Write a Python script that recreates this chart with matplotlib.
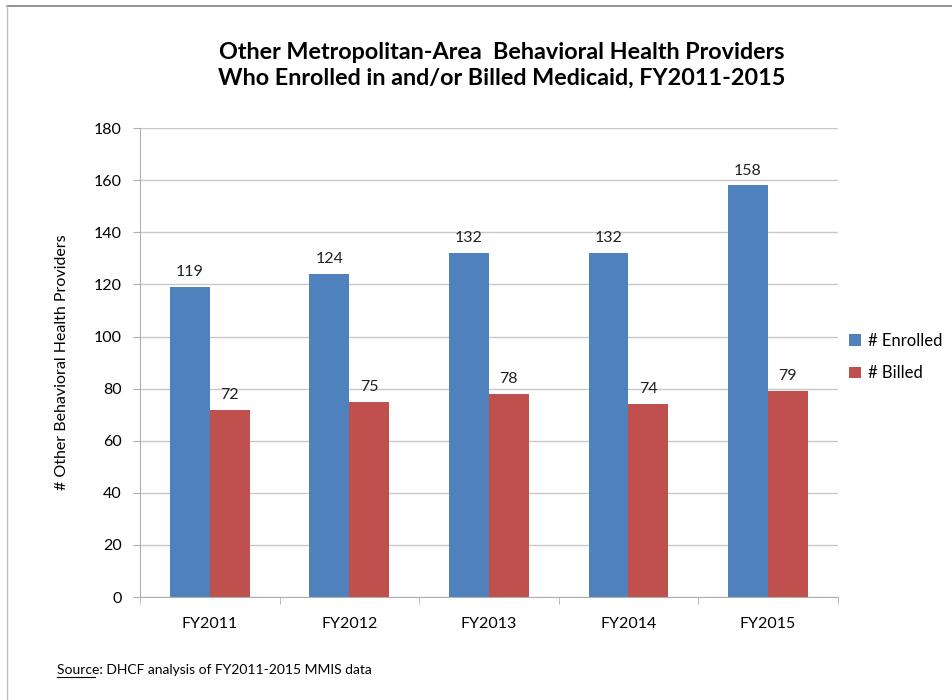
import numpy as np
import matplotlib.pyplot as plt

# Input Data
years = ['FY2011', 'FY2012', 'FY2013', 'FY2014', 'FY2015']
enrolled = [119, 124, 132, 132, 158]
billed = [72, 75, 78, 74, 79]

plt.rcParams['font.family'] = ['Lato', 'DejaVu Sans']

fig = plt.figure(figsize=(9.52, 7), dpi=100)
ax = fig.add_axes([0.147, 0.147, 0.733, 0.67])

x = np.arange(len(years))
w = 0.286
b1 = ax.bar(x - w / 2, enrolled, w, color='#4f81bd', label='# Enrolled')
b2 = ax.bar(x + w / 2, billed, w, color='#c0504d', label='# Billed')

for bars in (b1, b2):
    for r in bars:
        ax.text(r.get_x() + r.get_width() / 2, r.get_height() + 3, str(int(r.get_height())),
                ha='center', va='bottom', fontsize=11.5, color='#222222')

ax.set_xlim(-0.5, len(years) - 0.5)
ax.set_ylim(0, 180)
ax.set_yticks(range(0, 181, 20))
ax.yaxis.grid(True, color='#c8c8c8', linewidth=1)
ax.set_axisbelow(True)
ax.set_xticks(x)
ax.set_xticklabels(years, fontsize=11.5)
ax.set_xticks(np.arange(-0.5, len(years)), minor=True)
ax.tick_params(axis='x', which='major', length=0, pad=14)
ax.tick_params(axis='x', which='minor', length=5, color='#b0b0b0')
ax.tick_params(axis='y', length=5, color='#b0b0b0', labelsize=11.5, pad=8)
for s in ('top', 'right'):
    ax.spines[s].set_visible(False)
for s in ('left', 'bottom'):
    ax.spines[s].set_color('#b0b0b0')
ax.set_ylabel('# Other Behavioral Health Providers', fontsize=11.5, labelpad=18)

ax.legend(loc='center left', bbox_to_anchor=(0.995, 0.512), frameon=False,
          fontsize=12, handlelength=0.7, handleheight=0.7, handletextpad=0.4,
          labelspacing=1.0)

fig.text(0.527, 0.907, 'Other Metropolitan-Area  Behavioral Health Providers\nWho Enrolled in and/or Billed Medicaid, FY2011-2015',
         ha='center', va='center', fontsize=16.8, fontweight='bold', linespacing=1.3)

fig.text(0.06, 0.043, 'Source: DHCF analysis of FY2011-2015 MMIS data', fontsize=10, va='center')
fig.add_artist(plt.Line2D([0.06, 0.1], [0.033, 0.033], color='black', linewidth=0.8))

# frame lines
fig.add_artist(plt.Line2D([0.0075, 1.0], [0.991, 0.991], color='#808080', linewidth=1.2))
fig.add_artist(plt.Line2D([0.0075, 0.0075], [0.0, 0.991], color='#c0c0c0', linewidth=1))

plt.savefig('out.png', dpi=100)
